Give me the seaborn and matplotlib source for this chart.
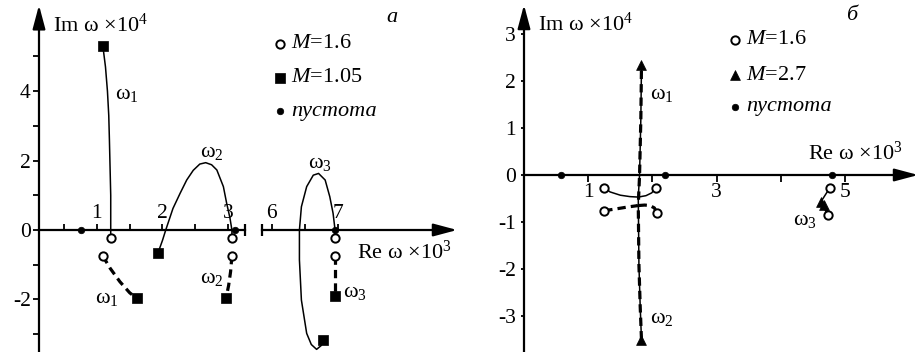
import matplotlib
matplotlib.use("Agg")
import matplotlib.pyplot as plt
import seaborn as sns

# ---------------- data (Re ω ×10^3, Im ω ×10^4) ----------------
# panel а: M = 1.05 (squares) -> M = 1.6 (circles)
a_w1_solid_re = [1.09, 1.13, 1.16, 1.18, 1.19, 1.20, 1.21, 1.21, 1.21]
a_w1_solid_im = [5.30, 4.70, 4.00, 3.30, 2.60, 1.80, 1.00, 0.00, -0.22]
a_w1_dash_re = [1.09, 1.20, 1.35, 1.50, 1.61]
a_w1_dash_im = [-0.75, -1.10, -1.49, -1.81, -1.97]
a_w2_solid_re = [1.93, 2.00, 2.05, 2.16, 2.27, 2.37, 2.47, 2.57, 2.66, 2.75, 2.83, 2.93, 2.98, 3.03, 3.06, 3.06]
a_w2_solid_im = [-0.67, -0.30, 0.00, 0.62, 1.06, 1.44, 1.72, 1.90, 1.94, 1.88, 1.73, 1.25, 0.77, 0.35, 0.00, -0.22]
a_w2_dash_re = [3.06, 3.04, 3.01, 2.97]
a_w2_dash_im = [-0.75, -1.20, -1.60, -1.97]
a_w3_solid_re = [6.77, 6.75, 6.68, 6.60, 6.53, 6.45, 6.42, 6.42, 6.45, 6.53, 6.63, 6.71, 6.81, 6.88, 6.93, 6.96, 6.96]
a_w3_solid_im = [-3.17, -3.33, -3.44, -3.30, -2.98, -2.02, -0.86, 0.00, 0.67, 1.25, 1.58, 1.63, 1.44, 0.96, 0.48, 0.00, -0.22]
a_w3_dash_re = [6.96, 6.96]
a_w3_dash_im = [-0.75, -1.90]

# markers of the low-frequency branches (ω1, ω2)
a_circ_re = [1.21, 1.09, 3.06, 3.06]
a_circ_im = [-0.22, -0.75, -0.22, -0.75]
a_sq_re = [1.09, 1.61, 1.93, 2.97]
a_sq_im = [5.30, -1.97, -0.67, -1.97]
a_void_re = [0.76, 3.11]
a_void_im = [0.0, 0.0]
# markers of the ω3 branch
a3_circ_re = [6.96, 6.96]
a3_circ_im = [-0.22, -0.75]
a3_sq_re = [6.77, 6.96]
a3_sq_im = [-3.17, -1.90]
a3_void_re = [6.96]
a3_void_im = [0.0]

# panel б: M = 1.6 (circles) -> M = 2.7 (triangles)
b_solid_up_re = [1.25, 1.34, 1.50, 1.65, 1.78, 1.80, 1.82, 1.83]
b_solid_up_im = [-0.27, -0.36, -0.43, -0.46, -0.47, 0.00, 1.20, 2.34]
b_solid_dn_re = [2.05, 1.99, 1.90, 1.78, 1.79, 1.81, 1.83]
b_solid_dn_im = [-0.27, -0.38, -0.44, -0.47, -1.90, -2.80, -3.51]
b_dash_up_re = [1.25, 1.44, 1.62, 1.78, 1.80, 1.82, 1.83]
b_dash_up_im = [-0.76, -0.72, -0.68, -0.65, 0.00, 1.20, 2.34]
b_dash_dn_re = [2.07, 2.03, 1.96, 1.88, 1.78, 1.79, 1.81, 1.83]
b_dash_dn_im = [-0.80, -0.70, -0.65, -0.64, -0.65, -1.90, -2.80, -3.51]
b_w3_solid_re = [4.76, 4.62]
b_w3_solid_im = [-0.28, -0.58]
b_w3_dash_re = [4.74, 4.67]
b_w3_dash_im = [-0.85, -0.64]

b_circ_re = [1.25, 2.05, 1.25, 2.07, 4.76, 4.74]
b_circ_im = [-0.27, -0.27, -0.76, -0.80, -0.28, -0.85]
b_tri_re = [1.83, 1.83, 4.62, 4.67]
b_tri_im = [2.34, -3.51, -0.58, -0.64]
b_void_re = [0.58, 2.20, 4.79]
b_void_im = [0.0, 0.0, 0.0]

legend_a = ["$M$=1.6", "$M$=1.05", "пустота"]
legend_b = ["$M$=1.6", "$M$=2.7", "пустота"]

# ---------------- style ----------------
sns.set_theme(style="white")
plt.rcParams["font.family"] = ["Liberation Serif", "DejaVu Serif"]
plt.rcParams["mathtext.fontset"] = "custom"
plt.rcParams["mathtext.rm"] = "Liberation Serif"
plt.rcParams["mathtext.it"] = "Liberation Serif:italic"
plt.rcParams["mathtext.bf"] = "Liberation Serif:bold"
plt.rcParams["axes.unicode_minus"] = False
plt.rcParams["text.color"] = "black"
plt.rcParams["axes.edgecolor"] = "black"
plt.rcParams["xtick.color"] = "black"
plt.rcParams["ytick.color"] = "black"

W, H = 920, 352
FS = 16
TS = 15.5
fig = plt.figure(figsize=(W / 100, H / 100), dpi=100)
fig.patch.set_facecolor("white")


def rect(x0, x1):
    return [x0 / W, 0.0, (x1 - x0) / W, 1.0]


def fp(x, y):
    return (x / W, 1 - y / H)


def curve(ax, re, im, dashed=False):
    if dashed:
        kw = dict(color="black", lw=2.3, linestyle=(0, (2.6, 1.6)))
    else:
        kw = dict(color="black", lw=1.1)
    sns.lineplot(x=re, y=im, sort=False, estimator=None, ax=ax, legend=False, **kw)
    ax.lines[-1].set_clip_on(False)


def marks(ax, re, im, kind):
    if kind == "circle":
        kw = dict(marker="o", s=36, color="white", edgecolor="black", linewidth=1.4)
    elif kind == "square":
        kw = dict(marker="s", s=42, color="black", edgecolor="black", linewidth=0.5)
    elif kind == "tri":
        kw = dict(marker="^", s=50, color="black", edgecolor="black", linewidth=0.5)
    else:
        kw = dict(marker="o", s=22, color="black", edgecolor="black", linewidth=0.5)
    sns.scatterplot(x=re, y=im, ax=ax, zorder=6, clip_on=False, legend=False, **kw)


def arrow(ax, tip, tail):
    ax.annotate("", xy=tip, xytext=tail, annotation_clip=False,
                arrowprops=dict(arrowstyle="-|>,head_length=1.2,head_width=0.32",
                                mutation_scale=12, color="black", lw=1.6,
                                shrinkA=0, shrinkB=0))


def label(x, y, s, **kw):
    fig.text(*fp(x, y), s, fontsize=FS, ha="left", va="center", **kw)


YA = (-3.516, 6.628)
YB = (-3.766, 3.723)

ax1 = fig.add_axes(rect(39, 245))
ax2 = fig.add_axes(rect(262, 460))
axb = fig.add_axes(rect(470, 920))
for ax in (ax1, ax2, axb):
    ax.set_facecolor("none")
    for s in ax.spines.values():
        s.set_linewidth(1.6)

# ---------------- panel а, left part ----------------
ax1.set_xlim(0.115, 3.26)
ax1.set_ylim(*YA)
ax1.spines["right"].set_visible(False)
ax1.spines["bottom"].set_visible(False)
ax1.spines["top"].set_position(("data", 0))
ax1.spines["left"].set_bounds(YA[0], 6.2)
ax1.xaxis.tick_top()
ax1.set_xticks([1, 2, 3])
ax1.set_xticks([0.5, 1.5, 2.5], minor=True)
ax1.set_yticks([-2, 0, 2, 4])
ax1.set_yticks([-3, -1, 1, 3, 5], minor=True)
ax1.tick_params(axis="x", which="both", direction="out", length=4, width=1.3, pad=1,
                labelsize=TS, top=True, bottom=False, labeltop=True, labelbottom=False)
ax1.tick_params(axis="y", which="both", direction="out", length=4, width=1.3, pad=2,
                labelsize=TS, left=True, right=False)
ax1.set_xlabel("")
ax1.set_ylabel("")
arrow(ax1, (0.115, 6.48), (0.115, 6.0))
ax1.plot([3.26], [0], marker="|", ms=8, mew=1.6, color="black", clip_on=False)

curve(ax1, a_w1_solid_re, a_w1_solid_im)
curve(ax1, a_w1_dash_re, a_w1_dash_im, dashed=True)
curve(ax1, a_w2_solid_re, a_w2_solid_im)
curve(ax1, a_w2_dash_re, a_w2_dash_im, dashed=True)
marks(ax1, a_circ_re, a_circ_im, "circle")
marks(ax1, a_sq_re, a_sq_im, "square")
marks(ax1, a_void_re, a_void_im, "dot")

# ---------------- panel а, right part (after the axis break) ----------------
ax2.set_xlim(5.853, 8.853)
ax2.set_ylim(*YA)
for s in ("left", "right", "bottom"):
    ax2.spines[s].set_visible(False)
ax2.spines["top"].set_position(("data", 0))
ax2.spines["top"].set_bounds(5.853, 8.6)
ax2.xaxis.tick_top()
ax2.set_xticks([6, 7])
ax2.set_xticks([6.5], minor=True)
ax2.set_yticks([])
ax2.tick_params(axis="x", which="both", direction="out", length=4, width=1.3, pad=1,
                labelsize=TS, top=True, bottom=False, labeltop=True, labelbottom=False)
ax2.set_xlabel("")
ax2.set_ylabel("")
arrow(ax2, (8.81, 0), (8.5, 0))
ax2.plot([5.853], [0], marker="|", ms=8, mew=1.6, color="black", clip_on=False)

curve(ax2, a_w3_solid_re, a_w3_solid_im)
curve(ax2, a_w3_dash_re, a_w3_dash_im, dashed=True)
marks(ax2, a3_circ_re, a3_circ_im, "circle")
marks(ax2, a3_sq_re, a3_sq_im, "square")
marks(ax2, a3_void_re, a3_void_im, "dot")

# ---------------- panel б ----------------
axb.set_xlim(-0.841, 6.168)
axb.set_ylim(*YB)
axb.spines["right"].set_visible(False)
axb.spines["top"].set_visible(False)
axb.spines["left"].set_position(("data", 0))
axb.spines["bottom"].set_position(("data", 0))
axb.spines["left"].set_bounds(YB[0], 3.35)
axb.spines["bottom"].set_bounds(0, 5.9)
axb.set_xticks([1, 3, 5])
axb.set_xticks([2, 4], minor=True)
axb.set_yticks([-3, -2, -1, 0, 1, 2, 3])
axb.tick_params(axis="x", which="both", direction="out", length=5, width=1.3, pad=1,
                labelsize=TS, bottom=True, top=False)
axb.tick_params(axis="y", which="both", direction="out", length=2, width=1.3, pad=4,
                labelsize=TS, left=True, right=False)
axb.set_xlabel("")
axb.set_ylabel("")
arrow(axb, (0, 3.62), (0, 3.2))
arrow(axb, (6.14, 0), (5.8, 0))

curve(axb, b_solid_up_re, b_solid_up_im)
curve(axb, b_solid_dn_re, b_solid_dn_im)
curve(axb, b_dash_up_re, b_dash_up_im, dashed=True)
curve(axb, b_dash_dn_re, b_dash_dn_im, dashed=True)
curve(axb, b_w3_solid_re, b_w3_solid_im)
curve(axb, b_w3_dash_re, b_w3_dash_im, dashed=True)
marks(axb, b_circ_re, b_circ_im, "circle")
marks(axb, b_tri_re, b_tri_im, "tri")
marks(axb, b_void_re, b_void_im, "dot")

# ---------------- annotations ----------------
label(53, 25, "Im ω ×10$^4$")
label(357, 252, "Re ω ×10$^3$")
label(538, 24, "Im ω ×10$^4$")
label(808, 153, "Re ω ×10$^3$")
label(386, 17, "а", style="italic")
label(846, 15, "б", style="italic")

label(115, 94, "ω$_1$")
label(95, 298, "ω$_1$")
label(200, 153, "ω$_2$")
label(200, 279, "ω$_2$")
label(308, 163, "ω$_3$")
label(343, 293, "ω$_3$")
label(650, 94, "ω$_1$")
label(650, 318, "ω$_2$")
label(793, 220, "ω$_3$")

# legends (marker column + text)
for (mx, tx, ys, texts, kinds, ax) in (
    (280, 291, (44, 78, 111), legend_a, ("circle", "square", "dot"), ax2),
    (735, 746, (40, 75, 107), legend_b, ("circle", "tri", "dot"), axb),
):
    for y, t, k in zip(ys, texts, kinds):
        xd, yd = ax.transData.inverted().transform((mx, H - y))
        marks(ax, [xd], [yd], k)
        label(tx, y, t, style="italic" if k == "dot" else "normal")

fig.savefig("out.png", dpi=100, facecolor="white")
